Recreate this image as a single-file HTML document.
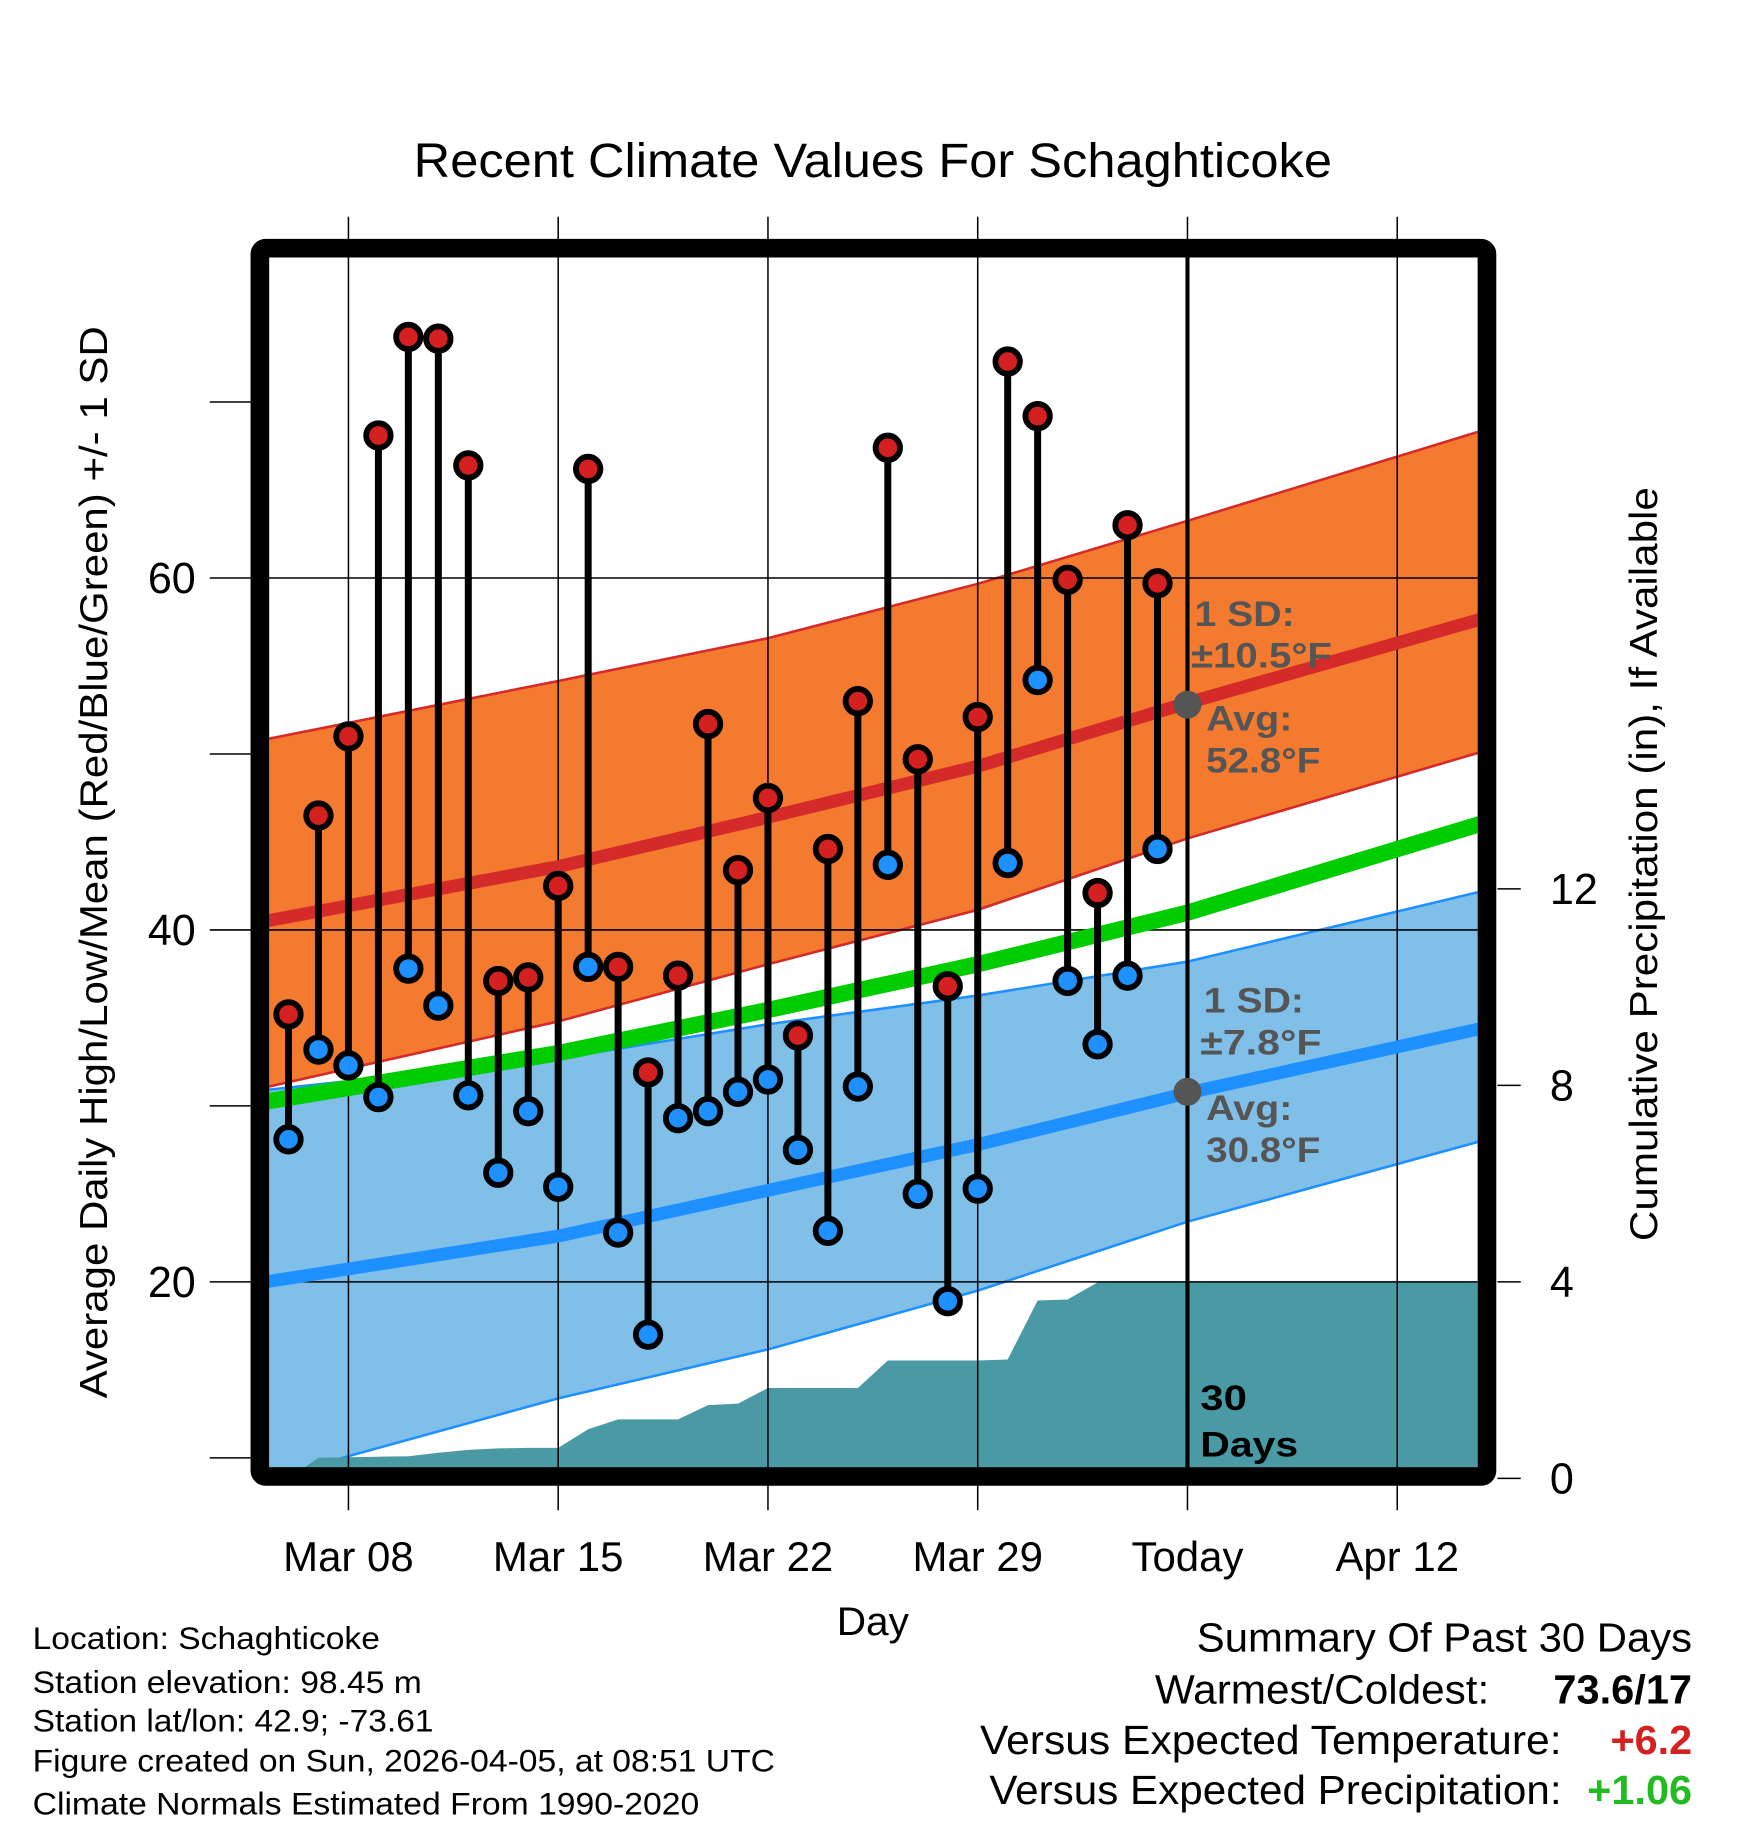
<!DOCTYPE html>
<html><head><meta charset="utf-8"><style>
html,body{margin:0;padding:0;background:#fff}
svg{display:block}
text{font-family:"Liberation Sans",Arial,sans-serif}
</style></head><body>
<svg id="chart" xmlns="http://www.w3.org/2000/svg" width="1748" height="1828" viewBox="0 0 1500 1568.65">
<defs><clipPath id="clip"><rect x="231" y="221" width="1037" height="1038"/></clipPath></defs>
<g id="plot" clip-path="url(#clip)"></g>
<g id="over"></g>
<text x="355" y="152" textLength="788" lengthAdjust="spacingAndGlyphs" font-size="41">Recent Climate Values For Schaghticoke</text>
<text transform="translate(92,1200) rotate(-90)" textLength="920" lengthAdjust="spacingAndGlyphs" font-size="33">Average Daily High/Low/Mean (Red/Blue/Green) +/- 1 SD</text>
<text transform="translate(1422,1065) rotate(-90)" textLength="647" lengthAdjust="spacingAndGlyphs" font-size="33">Cumulative Precipitation (in), If Available</text>
<text x="718" y="1403" textLength="62" lengthAdjust="spacingAndGlyphs" font-size="34">Day</text>
<g font-size="27" lengthAdjust="spacingAndGlyphs">
<text x="28" y="1415" textLength="298" lengthAdjust="spacingAndGlyphs">Location: Schaghticoke</text>
<text x="28" y="1453" textLength="334" lengthAdjust="spacingAndGlyphs">Station elevation: 98.45 m</text>
<text x="28" y="1486" textLength="344" lengthAdjust="spacingAndGlyphs">Station lat/lon: 42.9; -73.61</text>
<text x="28" y="1520" textLength="637" lengthAdjust="spacingAndGlyphs">Figure created on Sun, 2026-04-05, at 08:51 UTC</text>
<text x="28" y="1557" textLength="572" lengthAdjust="spacingAndGlyphs">Climate Normals Estimated From 1990-2020</text>
</g>
<g font-size="35">
<text x="1027" y="1417" textLength="425" lengthAdjust="spacingAndGlyphs">Summary Of Past 30 Days</text>
<text x="991" y="1462" textLength="287" lengthAdjust="spacingAndGlyphs">Warmest/Coldest:</text>
<text x="1333" y="1462" textLength="119" lengthAdjust="spacingAndGlyphs" font-weight="bold">73.6/17</text>
<text x="841" y="1505" textLength="499" lengthAdjust="spacingAndGlyphs">Versus Expected Temperature:</text>
<text x="1382" y="1505" textLength="70" lengthAdjust="spacingAndGlyphs" font-weight="bold" fill="#D42020">+6.2</text>
<text x="849" y="1548" textLength="491" lengthAdjust="spacingAndGlyphs">Versus Expected Precipitation:</text>
<text x="1362" y="1548" textLength="90" lengthAdjust="spacingAndGlyphs" font-weight="bold" fill="#22BB22">+1.06</text>
</g>
</svg>
<script>
const highs=[35.2,46.5,51.0,68.1,73.7,73.6,66.4,37.1,37.3,42.5,66.2,37.9,31.9,37.4,51.7,43.4,47.5,34.0,44.6,53.0,67.4,49.7,36.8,52.1,72.3,69.2,59.9,42.1,63.0,59.7];
const lows=[28.1,33.2,32.3,30.5,37.8,35.7,30.6,26.2,29.7,25.4,37.9,22.8,17.0,29.3,29.7,30.8,31.5,27.5,22.9,31.1,43.7,25.0,18.9,25.3,43.8,54.2,37.1,33.5,37.4,44.6];
const precip=[0,0.42,0.43,0.44,0.45,0.52,0.58,0.61,0.62,0.62,1.0,1.2,1.2,1.2,1.49,1.52,1.84,1.84,1.84,1.84,2.4,2.4,2.4,2.4,2.42,3.62,3.64,3.99,4.0,4.0];
const normDays=[-2.76,7,14,21,28,38.07];
const highUpper=[50.83,54.15,56.58,59.67,63.25,68.5];
const highMean=[40.5,43.6,46.4,49.3,52.9,57.8];
const highLower=[31.06,34.8,38.05,41.14,45.2,50.25];
const meanTemp=[30.24,33.0,35.45,38.05,40.98,46.18];
const lowUpper=[30.9,32.69,34.64,36.27,38.2,42.3];
const lowMean=[20.0,22.6,25.2,27.8,30.73,34.5];
const lowLower=[8.8,13.38,16.16,19.5,23.42,28.13];
const xTickDays=[0,7,14,21,28,35];
const xTickLabels=["Mar 08","Mar 15","Mar 22","Mar 29","Today","Apr 12"];
const yTicks=[20,40,60];
const yMinor=[10,30,50,70];
const pTicks=[0,4,8,12];
const firstDay=-2;

const NS="http://www.w3.org/2000/svg";
const X=d=>299+d*180/7;
const Y=v=>496-(v-60)*15.1;
const P=v=>1268.6-v*42.15;
const plot=document.getElementById('plot'), over=document.getElementById('over');
function mk(tag,at,parent){const e=document.createElementNS(NS,tag);for(const k in at)e.setAttribute(k,at[k]);(parent||plot).appendChild(e);return e;}
function pts(ds,vs){return ds.map((d,i)=>X(d)+','+Y(vs[i])).join(' ');}
function band(up,lo,fill,edge,name){
  const p=mk('polygon',{points:pts(normDays,up)+' '+pts(normDays.slice().reverse(),lo.slice().reverse()),fill:fill});
  
  
  [up,lo].forEach(a=>{const l=mk('polyline',{points:pts(normDays,a),fill:'none',stroke:edge,'stroke-width':2.2,'stroke-linejoin':'round'});
  
  });
}
band(highUpper,highLower,'#F37A2E','#D42A2A','high-sd-band');
band(lowUpper,lowLower,'#80C0E8','#1E90FF','low-sd-band');
let pp=X(firstDay)+','+P(0)+' ';
precip.forEach((v,i)=>{pp+=X(firstDay+i)+','+P(v)+' ';});
pp+=1268+','+P(precip[precip.length-1])+' 1268,1262 '+X(firstDay)+',1262';
const pa=mk('polygon',{points:pp,fill:'#4A9AA5'});


xTickDays.forEach(d=>{const g=mk('line',{x1:X(d),x2:X(d),y1:186,y2:1296,stroke:'#000','stroke-width':1.3},over);

});
yTicks.forEach(v=>{const g=mk('line',{x1:180,x2:1268,y1:Y(v),y2:Y(v),stroke:'#000','stroke-width':1.3},over);

});
const lineG=mk('g',{},over);
lineG.setAttribute('clip-path','url(#clip)');
[[highMean,'#D42A2A',11,'normal-high-line'],[meanTemp,'#00CC00',14,'normal-mean-line'],[lowMean,'#1E90FF',11,'normal-low-line']].forEach(([a,c,w,n])=>{
  const l=mk('polyline',{points:pts(normDays,a),fill:'none',stroke:c,'stroke-width':w,'stroke-linejoin':'round'},lineG);
  
  
});
highs.forEach((h,i)=>{
  const x=X(firstDay+i);
  const s=mk('line',{x1:x,x2:x,y1:Y(h),y2:Y(lows[i]),stroke:'#000','stroke-width':6},over);
  
  
  [[h,'#D42020','high-marker'],[lows[i],'#1E90FF','low-marker']].forEach(([v,c,n])=>{
    const o=mk('circle',{cx:x,cy:Y(v),r:10.5,fill:c,stroke:'#000','stroke-width':5},over);
    
    
  });
});
const tl=mk('line',{x1:X(28),x2:X(28),y1:221,y2:1260,stroke:'#000','stroke-width':3.5},over);


[[52.8,'today-avg-high-dot'],[30.8,'today-avg-low-dot']].forEach(([v,n])=>{
  const c=mk('circle',{cx:X(28),cy:Y(v),r:12,fill:'#555'},over);
  
  
});
[[1025,537,'1 SD:',86],[1022,573,'±10.5°F',121],[1035,627,'Avg:',74],[1035,663,'52.8°F',98],[1033,869,'1 SD:',86],[1030,905,'±7.8°F',104],[1035,961,'Avg:',74],[1035,997,'30.8°F',98]].forEach(([x,y,t,w])=>{
  const e=mk('text',{x:x,y:y,'font-size':30,'font-weight':'bold',fill:'#555',textLength:w,lengthAdjust:'spacingAndGlyphs'},over);
  e.textContent=t;
  
  
});
[[1030,1210,'30',40],[1030,1250,'Days',84]].forEach(([x,y,t,w])=>{
  const e=mk('text',{x:x,y:y,'font-size':30,'font-weight':'bold',fill:'#000',textLength:w,lengthAdjust:'spacingAndGlyphs'},over);
  e.textContent=t;
  
  
});
const fr=mk('rect',{x:223,y:213,width:1053,height:1054,fill:'none',stroke:'#000','stroke-width':16,rx:5},over);


yMinor.forEach(v=>{const t=mk('line',{x1:180,x2:215,y1:Y(v),y2:Y(v),stroke:'#000','stroke-width':1.3},over);

});
yTicks.forEach(v=>{const t=mk('text',{x:168,y:Y(v)+13,'font-size':37,'text-anchor':'end'},over);t.textContent=v;

});
pTicks.forEach(v=>{
  const t=mk('line',{x1:1285,x2:1305,y1:P(v),y2:P(v),stroke:'#000','stroke-width':1.3},over);
  
  
  const l=mk('text',{x:1330,y:P(v)+13,'font-size':37,'text-anchor':'start'},over);l.textContent=v;
  
  
});
xTickDays.forEach((d,i)=>{const t=mk('text',{x:X(d),y:1348,'font-size':36,'text-anchor':'middle'},over);t.textContent=xTickLabels[i];

});
</script>
</body></html>
